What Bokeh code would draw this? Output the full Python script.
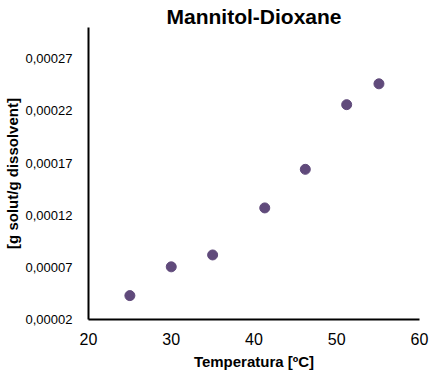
from bokeh.plotting import figure
from bokeh.models import Range1d, FixedTicker, Title
from bokeh.embed import file_html
from bokeh.resources import INLINE

temperature = [25, 30, 35, 41.3, 46.2, 51.2, 55.1]
solubility = [0.0000429, 0.0000705, 0.0000819, 0.000127, 0.000164, 0.000226, 0.000246]
x_ticks = [20, 30, 40, 50, 60]
y_ticks = [0.00002, 0.00007, 0.00012, 0.00017, 0.00022, 0.00027]
y_tick_labels = ["0,00002", "0,00007", "0,00012", "0,00017", "0,00022", "0,00027"]
title_text = "Mannitol-Dioxane"

FONT = "Liberation Sans"

p = figure(width=435, height=375, output_backend="svg", toolbar_location=None,
           x_range=Range1d(20, 60), y_range=Range1d(0.00002, 0.0003),
           min_border_left=87, min_border_right=16, min_border_top=27, min_border_bottom=56)
p.title = None
t = Title(text=title_text, align="center", text_font=FONT,
          text_font_size="21px", text_font_style="bold", text_color="black",
          offset=-8, standoff=0)
p.add_layout(t, "above")

p.scatter(temperature, solubility, size=10, color="#604a7b")

p.grid.visible = False
p.outline_line_color = None

for ax in (p.xaxis[0], p.yaxis[0]):
    ax.axis_line_color = "black"
    ax.axis_line_width = 2
    ax.major_tick_line_color = None
    ax.minor_tick_line_color = None
    ax.major_label_text_color = "black"
    ax.major_label_text_font = FONT
    ax.axis_label_text_font = FONT
    ax.axis_label_text_font_style = "bold"
    ax.axis_label_text_color = "black"

p.xaxis.ticker = FixedTicker(ticks=x_ticks)
p.xaxis.major_label_text_font_size = "16px"
p.xaxis.major_label_standoff = 7
p.xaxis.axis_label = "Temperatura [ºC]"
p.xaxis.axis_label_text_font_size = "15px"
p.xaxis.axis_label_standoff = 5

p.yaxis.ticker = FixedTicker(ticks=y_ticks)
p.yaxis.major_label_overrides = {v: s for v, s in zip(y_ticks, y_tick_labels)}
p.yaxis.major_label_text_font_size = "13px"
p.yaxis.major_label_standoff = 10
p.yaxis.axis_label = "[g solut/g dissolvent]"
p.yaxis.axis_label_text_font_size = "15px"
p.yaxis.axis_label_standoff = 2

open("out.html", "w").write(file_html(p, INLINE))
